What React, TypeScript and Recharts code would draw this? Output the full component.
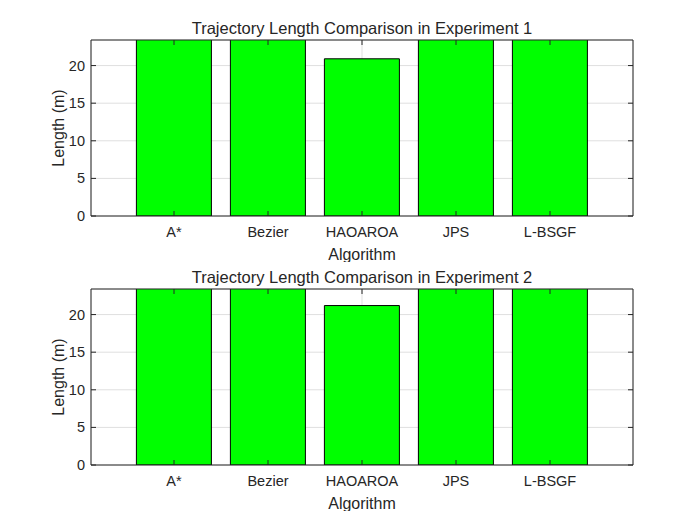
import { BarChart, Bar, XAxis, YAxis, CartesianGrid } from "recharts";

const algorithms = ["A*", "Bezier", "HAOAROA", "JPS", "L-BSGF"];
// bars above the y limit are clipped in the source, their heights are estimates
const exp1Lengths = [30.2, 27.6, 20.9, 29.4, 26.8];
const exp2Lengths = [31.5, 28.3, 21.2, 30.1, 27.5];
const yTicks = [0, 5, 10, 15, 20];
const titles = ["Trajectory Length Comparison in Experiment 1", "Trajectory Length Comparison in Experiment 2"];

const INK = "#262626";
const FONT = "Arial, 'Liberation Sans', Helvetica, sans-serif";

function BottomTick({ x, y, payload }: any) {
  return (
    <g>
      <line x1={x} x2={x} y1={y} y2={y - 5} stroke={INK} />
      <text x={x} y={y + 21} textAnchor="middle" fontSize={14.5} fill={INK} fontFamily={FONT}>
        {payload.value}
      </text>
    </g>
  );
}

function TopTick({ x, y }: any) {
  return <line x1={x} x2={x} y1={y} y2={y + 5} stroke={INK} />;
}

function LeftTick({ x, y, payload }: any) {
  return (
    <g>
      <line x1={x} x2={x + 5} y1={y} y2={y} stroke={INK} />
      <text x={x - 6} y={y + 5} textAnchor="end" fontSize={14.5} fill={INK} fontFamily={FONT}>
        {payload.value}
      </text>
    </g>
  );
}

function RightTick({ x, y }: any) {
  return <line x1={x} x2={x - 5} y1={y} y2={y} stroke={INK} />;
}

function Panel({ title, values, top }: { title: string; values: number[]; top: number }) {
  const data = algorithms.map((name, i) => ({ name, length: values[i] }));
  return (
    <div style={{ position: "absolute", left: 0, top, width: 700, height: 262 }}>
      <BarChart
        width={700}
        height={262}
        data={data}
        margin={{ top: 39, right: 66, bottom: 6, left: 0 }}
        barCategoryGap="10%"
      >
        <CartesianGrid stroke="#dfdfdf" ticks={yTicks} />
        <XAxis
          dataKey="name"
          height={40}
          padding={{ left: 36, right: 36 }}
          axisLine={{ stroke: INK }}
          tickLine={false}
          tickSize={0}
          tickMargin={0}
          tick={<BottomTick />}
          interval={0}
        />
        <XAxis
          xAxisId="top"
          dataKey="name"
          orientation="top"
          height={1}
          padding={{ left: 36, right: 36 }}
          axisLine={{ stroke: INK }}
          tickLine={false}
          tickSize={0}
          tickMargin={0}
          tick={<TopTick />}
          interval={0}
        />
        <YAxis
          width={91}
          domain={[0, 23.4]}
          ticks={yTicks}
          allowDataOverflow
          axisLine={{ stroke: INK }}
          tickLine={false}
          tickSize={0}
          tickMargin={0}
          tick={<LeftTick />}
          interval={0}
        />
        <YAxis
          yAxisId="right"
          orientation="right"
          width={1}
          domain={[0, 23.4]}
          ticks={yTicks}
          allowDataOverflow
          axisLine={{ stroke: INK }}
          tickLine={false}
          tickSize={0}
          tickMargin={0}
          tick={<RightTick />}
          interval={0}
        />
        <Bar dataKey="length" fill="#00ff00" stroke="#000000" strokeWidth={1} isAnimationActive={false} />
      </BarChart>
      <svg
        width={700}
        height={262}
        style={{ position: "absolute", left: 0, top: 0, pointerEvents: "none" }}
        fontFamily={FONT}
        fill={INK}
      >
        <text x={362} y={34} textAnchor="middle" fontSize={16.5}>
          {title}
        </text>
        <text x={362} y={260} textAnchor="middle" fontSize={16}>
          Algorithm
        </text>
        <text x={64} y={128} textAnchor="middle" fontSize={16} transform="rotate(-90 64 128)">
          Length (m)
        </text>
      </svg>
    </div>
  );
}

export default function App() {
  return (
    <div style={{ position: "absolute", left: 0, top: 0, width: 700, height: 525, background: "#ffffff" }}>
      <Panel title={titles[0]} values={exp1Lengths} top={0} />
      <Panel title={titles[1]} values={exp2Lengths} top={249} />
    </div>
  );
}
